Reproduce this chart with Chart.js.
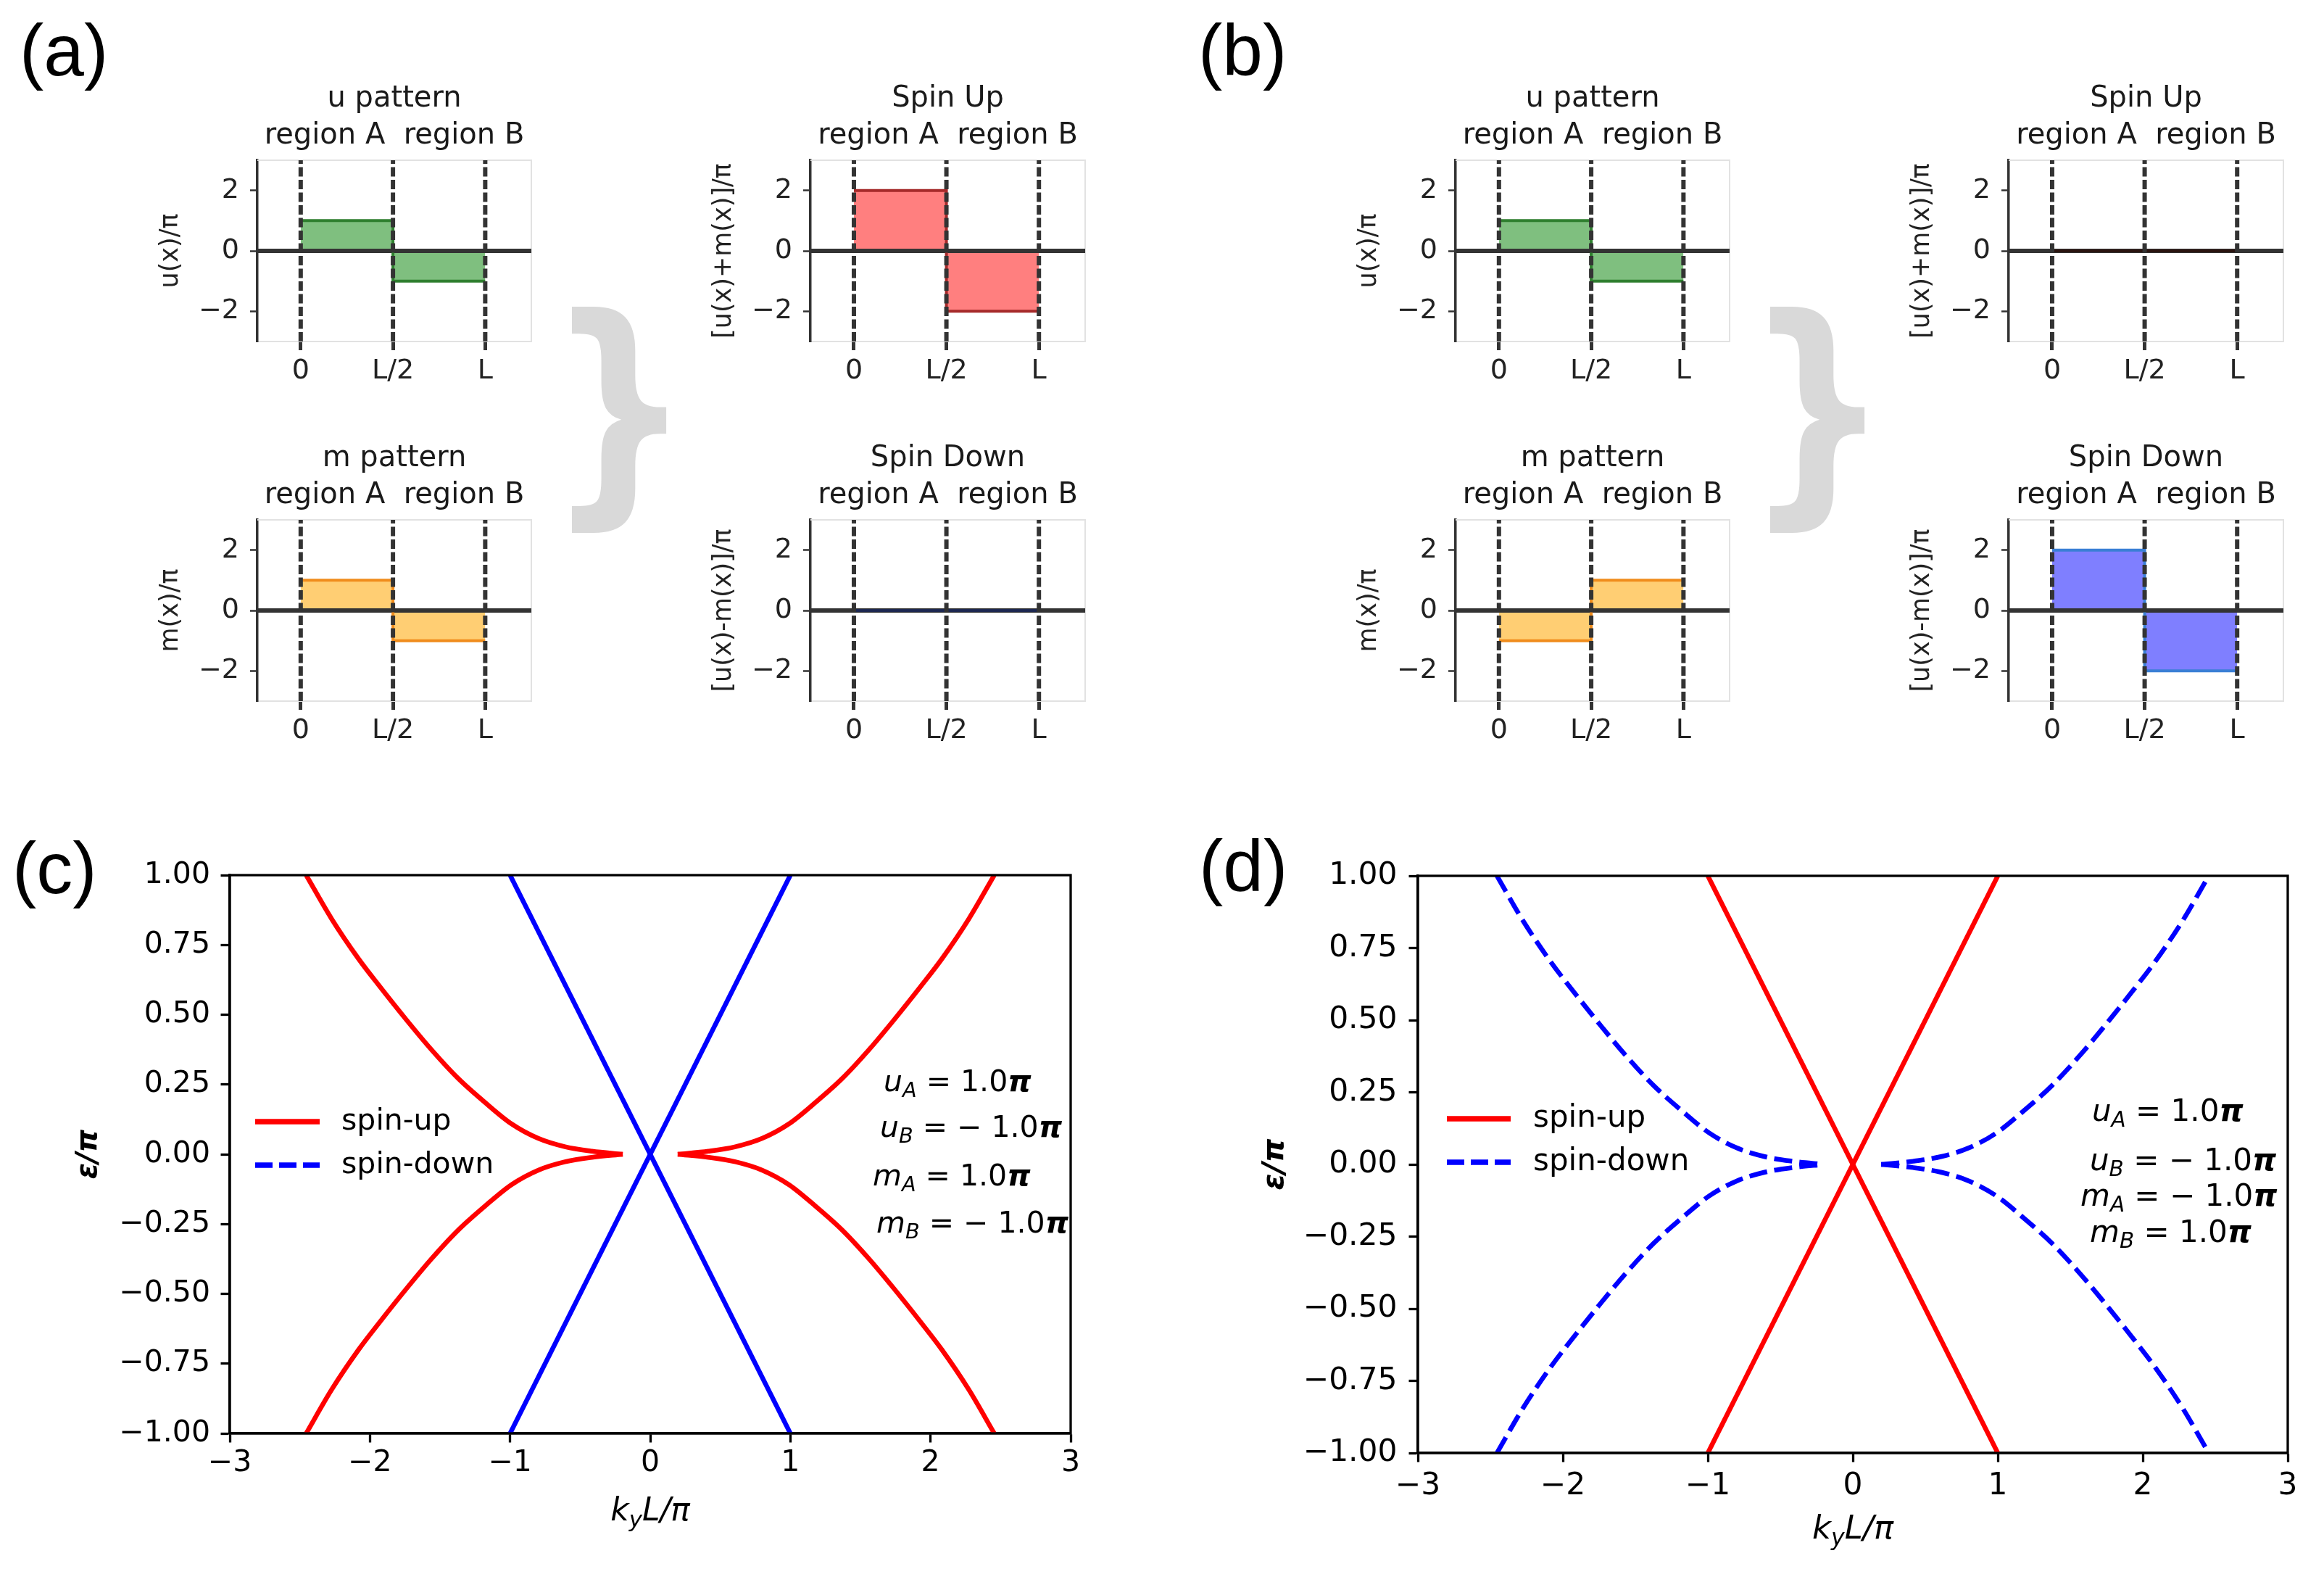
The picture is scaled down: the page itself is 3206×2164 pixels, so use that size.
<!DOCTYPE html>
<html>
<head>
<meta charset="utf-8">
<script src="https://cdn.jsdelivr.net/npm/chart.js@4.4.1/dist/chart.umd.min.js"></script>
<style>
  html, body { margin: 0; padding: 0; background: #fff; }
  #fig { position: relative; width: 3206px; height: 2164px; overflow: hidden; background: #fff; }
  #fig canvas { position: absolute; }
  .plabel { position: absolute; font-family: 'Liberation Sans', Arial, sans-serif; font-size: 100px;
            line-height: 100px; color: #000; white-space: nowrap; }
</style>
</head>
<body>
<div id="fig"></div>
<script>
// ---------- values ----------
// small panels: x = 0, L/2, L (units of L), values per region in units of pi
const regionEdges = [0, 0.5, 1];
const edgeLabels = ['0', 'L/2', 'L'];
const smallYTicks = [-2, 0, 2];
const regionTitle = 'region A  region B';

const aU = [1, -1];
const aM = [1, -1];
const aSpinUp = [2, -2];
const aSpinDown = [0, 0];

const bU = [1, -1];
const bM = [-1, 1];
const bSpinUp = [0, 0];
const bSpinDown = [2, -2];

// band panels: k_y L / pi  vs  eps / pi
const kTicks = [-3, -2, -1, 0, 1, 2, 3];
const eTicks = [-1, -0.75, -0.5, -0.25, 0, 0.25, 0.5, 0.75, 1];
// gapped band, upper-left quarter (other quarters are mirror images)
const branchK = [-2.455, -2.273, -2.081, -1.928, -1.737, -1.565, -1.373, -1.182, -0.990, -0.799, -0.608, -0.416, -0.196];
const branchE = [1.0, 0.843, 0.700, 0.600, 0.480, 0.377, 0.273, 0.187, 0.109, 0.057, 0.027, 0.011, 0.0];
// gapless crossing
const coneK = [-1, 1];
const coneE = [1, -1];
const seriesNames = ['spin-up', 'spin-down'];

// ---------- helpers ----------
Chart.defaults.font.family = '"DejaVu Sans", sans-serif';
Chart.defaults.color = '#000';

const fig = document.getElementById('fig');

function makeCanvas(x, y, w, h) {
    let cv = document.createElement('canvas');
    cv.width = w; cv.height = h;
    cv.style.left = x + 'px'; cv.style.top = y + 'px';
    cv.style.width = w + 'px'; cv.style.height = h + 'px';
    fig.appendChild(cv);
    return cv;
}

function minus(v, d) {
    return (v < 0 ? '\u2212' : '') + Math.abs(v).toFixed(d);
}

function fontFor(st, size) {
    return (st.includes('i') ? 'italic ' : '') + (st.includes('b') ? 'bold ' : '') + size + 'px "DejaVu Sans"';
}

// parts: [text, style] ; style letters i = italic, b = bold, s = subscript
function drawRich(ctx, parts, x, y, size, align) {
    let widths = parts.map(([t, st]) => {
        ctx.font = fontFor(st, st.includes('s') ? size * 0.7 : size);
        return ctx.measureText(t).width;
    });
    let total = widths.reduce((a, b) => a + b, 0);
    let cx = align === 'center' ? x - total / 2 : x;
    ctx.textAlign = 'left';
    ctx.textBaseline = 'middle';
    ctx.fillStyle = '#000';
    parts.forEach(([t, st], i) => {
        let sub = st.includes('s');
        ctx.font = fontFor(st, sub ? size * 0.7 : size);
        ctx.fillText(t, cx, y + (sub ? size * 0.28 : 0));
        cx += widths[i];
    });
}

function paramParts(sym, sub, v) {
    let num = v < 0 ? '\u2212 ' + Math.abs(v).toFixed(1) : v.toFixed(1);
    return [[sym, 'i'], [sub, 'is'], [' = ' + num, ''], ['\u03c0', 'bi']];
}

// light frame on top/right of the small panels
const lightFrame = {
    id: 'lightFrame',
    beforeDatasetsDraw(chart) {
        let {ctx, chartArea: a} = chart;
        ctx.save();
        ctx.strokeStyle = '#e2e2e2';
        ctx.lineWidth = 2;
        ctx.beginPath();
        ctx.moveTo(a.left, a.top);
        ctx.lineTo(a.right, a.top);
        ctx.lineTo(a.right, a.bottom);
        ctx.stroke();
        ctx.restore();
    }
};

// frame, in-axes legend, parameter text and x title of the band panels
const bandDecor = {
    id: 'bandDecor',
    afterDraw(chart, args, o) {
        let {ctx, chartArea: a} = chart;
        ctx.save();
        ctx.strokeStyle = '#000';
        ctx.lineWidth = 3.3;
        ctx.setLineDash([]);
        ctx.strokeRect(a.left, a.top, a.right - a.left, a.bottom - a.top);

        o.legend.forEach((it, i) => {
            let y = a.top + o.legendY[i];
            ctx.beginPath();
            ctx.strokeStyle = it.color;
            ctx.lineWidth = 7.5;
            ctx.setLineDash(it.dash);
            ctx.moveTo(a.left + o.legendX[0], y);
            ctx.lineTo(a.left + o.legendX[1], y);
            ctx.stroke();
            ctx.setLineDash([]);
            ctx.fillStyle = '#000';
            ctx.textAlign = 'left';
            ctx.textBaseline = 'middle';
            ctx.font = o.fontSize + 'px "DejaVu Sans"';
            ctx.fillText(it.label, a.left + o.legendX[2], y);
        });

        o.params.forEach((parts, i) => drawRich(ctx, parts, a.left + o.paramX[i], a.top + o.paramY[i], o.paramSize, 'left'));

        drawRich(ctx, [['k', 'i'], ['y', 'is'], ['L/\u03c0', 'i']], (a.left + a.right) / 2, a.bottom + o.xTitleY, o.xTitleSize, 'center');
        ctx.restore();
    }
};

// ---------- small step panels ----------
const X_MIN = -0.235, X_MAX = 1.25;

function smallChart(box, title, yLabel, vals, fill, edge) {
    let [L, T, R, B] = box;
    let cv = makeCanvas(L - 150, T - 120, R - L + 300, B - T + 195);

    let step = [];
    vals.forEach((v, i) => {
        step.push({x: regionEdges[i], y: v});
        step.push({x: regionEdges[i + 1], y: v});
    });
    let dashes = [];
    regionEdges.forEach(x => {
        dashes.push({x: x, y: -3}, {x: x, y: 3}, {x: x, y: null});
    });

    new Chart(cv, {
        type: 'line',
        data: {
            datasets: [
                { data: step, borderColor: edge, borderWidth: 4, backgroundColor: fill, fill: 'origin', order: 2 },
                { data: [{x: X_MIN, y: 0}, {x: X_MAX, y: 0}], borderColor: '#333', borderWidth: 6, fill: false, order: 3 },
                { data: dashes, borderColor: '#333', borderWidth: 6, borderDash: [13, 4.5], fill: false, spanGaps: false, order: 1 },
            ]
        },
        options: {
            responsive: false,
            devicePixelRatio: 1,
            animation: false,
            layout: { padding: { left: 0, right: 150, top: 0, bottom: 0 } },
            elements: { point: { radius: 0, hitRadius: 0 }, line: { tension: 0 } },
            plugins: {
                legend: { display: false },
                tooltip: { enabled: false },
                filler: { drawTime: 'beforeDatasetsDraw' },
                title: {
                    display: true,
                    fullSize: false,
                    text: [title, regionTitle],
                    color: '#1a1a1a',
                    font: { size: 40, weight: 'normal', lineHeight: 1.275 },
                    padding: { top: 10, bottom: 8 },
                },
            },
            scales: {
                x: {
                    type: 'linear',
                    min: X_MIN, max: X_MAX,
                    afterBuildTicks: s => { s.ticks = regionEdges.map(v => ({value: v})); },
                    ticks: {
                        callback: v => edgeLabels[regionEdges.indexOf(v)],
                        font: { size: 38 }, color: '#222', padding: 6, autoSkip: false, maxRotation: 0,
                    },
                    grid: { drawOnChartArea: false, tickLength: 12, tickColor: '#333', tickWidth: 5 },
                    border: { color: '#e2e2e2', width: 2 },
                    afterFit: s => { s.height = 75; },
                },
                y: {
                    min: -3, max: 3,
                    afterBuildTicks: s => { s.ticks = smallYTicks.map(v => ({value: v})); },
                    ticks: { callback: v => minus(v, 0), font: { size: 38 }, color: '#222', padding: 15 },
                    grid: { drawOnChartArea: false, tickLength: 10, tickColor: '#333', tickWidth: 2.5 },
                    border: { color: '#333', width: 3.5 },
                    title: { display: true, text: yLabel, font: { size: 35 }, color: '#222', padding: { top: 10 } },
                    afterFit: s => { s.width = 150; },
                },
            },
        },
        plugins: [lightFrame],
    });
}

function braceGlyph(x, y, w, h) {
    let cv = makeCanvas(x, y, w, h);
    let ctx = cv.getContext('2d');
    ctx.font = 'bold 400px "DejaVu Sans"';
    let m = ctx.measureText('}');
    let gw = m.actualBoundingBoxLeft + m.actualBoundingBoxRight;
    let gh = m.actualBoundingBoxAscent + m.actualBoundingBoxDescent;
    ctx.scale(w / gw, h / gh);
    ctx.fillStyle = '#d9d9d9';
    ctx.fillText('}', m.actualBoundingBoxLeft, m.actualBoundingBoxAscent);
}

function panelLabel(text, x, y) {
    let d = document.createElement('div');
    d.className = 'plabel';
    d.textContent = text;
    d.style.left = x + 'px';
    d.style.top = y + 'px';
    fig.appendChild(d);
}

const GREEN = 'rgba(0,128,0,0.5)', ORANGE = 'rgba(255,165,0,0.55)';
const RED = 'rgba(255,0,0,0.5)', BLUE = 'rgba(0,0,255,0.5)';

function stepPanel(dx, u, m, up, down, upEdge, downEdge) {
    smallChart([355 + dx, 221, 733 + dx, 471], 'u pattern', 'u(x)/\u03c0', u, GREEN, '#2f7f2f');
    smallChart([355 + dx, 717, 733 + dx, 967], 'm pattern', 'm(x)/\u03c0', m, ORANGE, '#f08c1c');
    smallChart([1118 + dx, 221, 1497 + dx, 471], 'Spin Up', '[u(x)+m(x)]/\u03c0', up, RED, upEdge);
    smallChart([1118 + dx, 717, 1497 + dx, 967], 'Spin Down', '[u(x)-m(x)]/\u03c0', down, BLUE, downEdge);
    braceGlyph(789 + dx, 421, 132, 317);
}

stepPanel(0, aU, aM, aSpinUp, aSpinDown, '#a52a2a', '#1c2750');
stepPanel(1653, bU, bM, bSpinUp, bSpinDown, '#2a1410', '#3a7fd5');

// ---------- band panels ----------
function branch(sx, sy) {
    return branchK.map((k, i) => ({x: sx * k, y: sy * branchE[i]})).sort((p, q) => p.x - q.x);
}
function cone(sy) {
    return coneK.map((k, i) => ({x: k, y: sy * coneE[i]}));
}

function bandChart(geo, gapStyle, coneStyle, legend, params, deco) {
    let cv = makeCanvas(geo.x, geo.y, geo.w, geo.h);
    let s = geo.s;
    let sets = [];
    [[1, 1], [-1, 1], [1, -1], [-1, -1]].forEach(([sx, sy]) => {
        sets.push({ data: branch(sx, sy), borderColor: gapStyle.color, borderWidth: 6.5,
                    borderDash: gapStyle.dash, cubicInterpolationMode: 'monotone', fill: false });
    });
    [1, -1].forEach(sy => {
        sets.push({ data: cone(sy), borderColor: coneStyle.color, borderWidth: 6.5,
                    borderDash: coneStyle.dash, fill: false });
    });

    new Chart(cv, {
        type: 'line',
        data: { datasets: sets },
        options: {
            responsive: false,
            devicePixelRatio: 1,
            animation: false,
            layout: { padding: { left: 0, right: geo.padRight, top: geo.padTop, bottom: 0 } },
            elements: { point: { radius: 0, hitRadius: 0 } },
            plugins: {
                legend: { display: false },
                tooltip: { enabled: false },
                bandDecor: Object.assign({ legend: legend, params: params }, deco),
            },
            scales: {
                x: {
                    type: 'linear', min: -3, max: 3,
                    afterBuildTicks: sc => { sc.ticks = kTicks.map(v => ({value: v})); },
                    ticks: { callback: v => minus(v, 0), font: { size: 41 * s }, color: '#000',
                             padding: geo.xPad, autoSkip: false, maxRotation: 0 },
                    grid: { drawOnChartArea: false, tickLength: 12.5, tickWidth: 3.3, tickColor: '#000' },
                    border: { color: '#000', width: 3.3 },
                    afterFit: sc => { sc.height = geo.xHeight; },
                },
                y: {
                    min: -1, max: 1,
                    afterBuildTicks: sc => { sc.ticks = eTicks.map(v => ({value: v})); },
                    ticks: { callback: v => minus(v, 2), font: { size: 41 * s }, color: '#000', padding: geo.yPad },
                    grid: { drawOnChartArea: false, tickLength: 12.5, tickWidth: 3.3, tickColor: '#000' },
                    border: { color: '#000', width: 3.3 },
                    title: { display: true, text: '\u03b5/\u03c0', color: '#000',
                             font: { size: 40 * s, style: 'italic', weight: 'bold' }, padding: { top: geo.yTitleTop } },
                    afterFit: sc => { sc.width = geo.yWidth; },
                },
            },
        },
        plugins: [bandDecor],
    });
}

const solidRed = { color: '#ff0000', dash: [] };
const solidBlue = { color: '#0000ff', dash: [] };
const dashedBlue = { color: '#0000ff', dash: [25, 10] };
const legendItems = [
    { label: seriesNames[0], color: '#ff0000', dash: [] },
    { label: seriesNames[1], color: '#0000ff', dash: [24, 9] },
];

// (c)
bandChart(
    { x: 0, y: 1100, w: 1600, h: 1064, s: 1, padRight: 123, padTop: 107, yWidth: 317, xHeight: 187,
      xPad: 4, yPad: 14.5, yTitleTop: 99 },
    solidRed, solidBlue, legendItems,
    [paramParts('u', 'A', aU[0]), paramParts('u', 'B', aU[1]), paramParts('m', 'A', aM[0]), paramParts('m', 'B', aM[1])],
    { legendX: [35, 124, 154], legendY: [340, 400], fontSize: 41,
      paramX: [902, 897, 887, 892], paramY: [287, 350, 417, 482], paramSize: 41,
      xTitleY: 109, xTitleSize: 44 }
);

// (d)
bandChart(
    { x: 1600, y: 1100, w: 1606, h: 1064, s: 1.034, padRight: 50, padTop: 108, yWidth: 356, xHeight: 160,
      xPad: 8, yPad: 16, yTitleTop: 134 },
    dashedBlue, solidRed, legendItems,
    [paramParts('u', 'A', bU[0]), paramParts('u', 'B', bU[1]), paramParts('m', 'A', bM[0]), paramParts('m', 'B', bM[1])],
    { legendX: [40, 128, 159], legendY: [335, 395], fontSize: 42,
      paramX: [930, 927, 914, 927], paramY: [327, 395, 444, 494], paramSize: 42,
      xTitleY: 106, xTitleSize: 45 }
);

panelLabel('(a)', 27, 19);
panelLabel('(b)', 1653, 19);
panelLabel('(c)', 17, 1147);
panelLabel('(d)', 1654, 1144);
</script>
</body>
</html>
